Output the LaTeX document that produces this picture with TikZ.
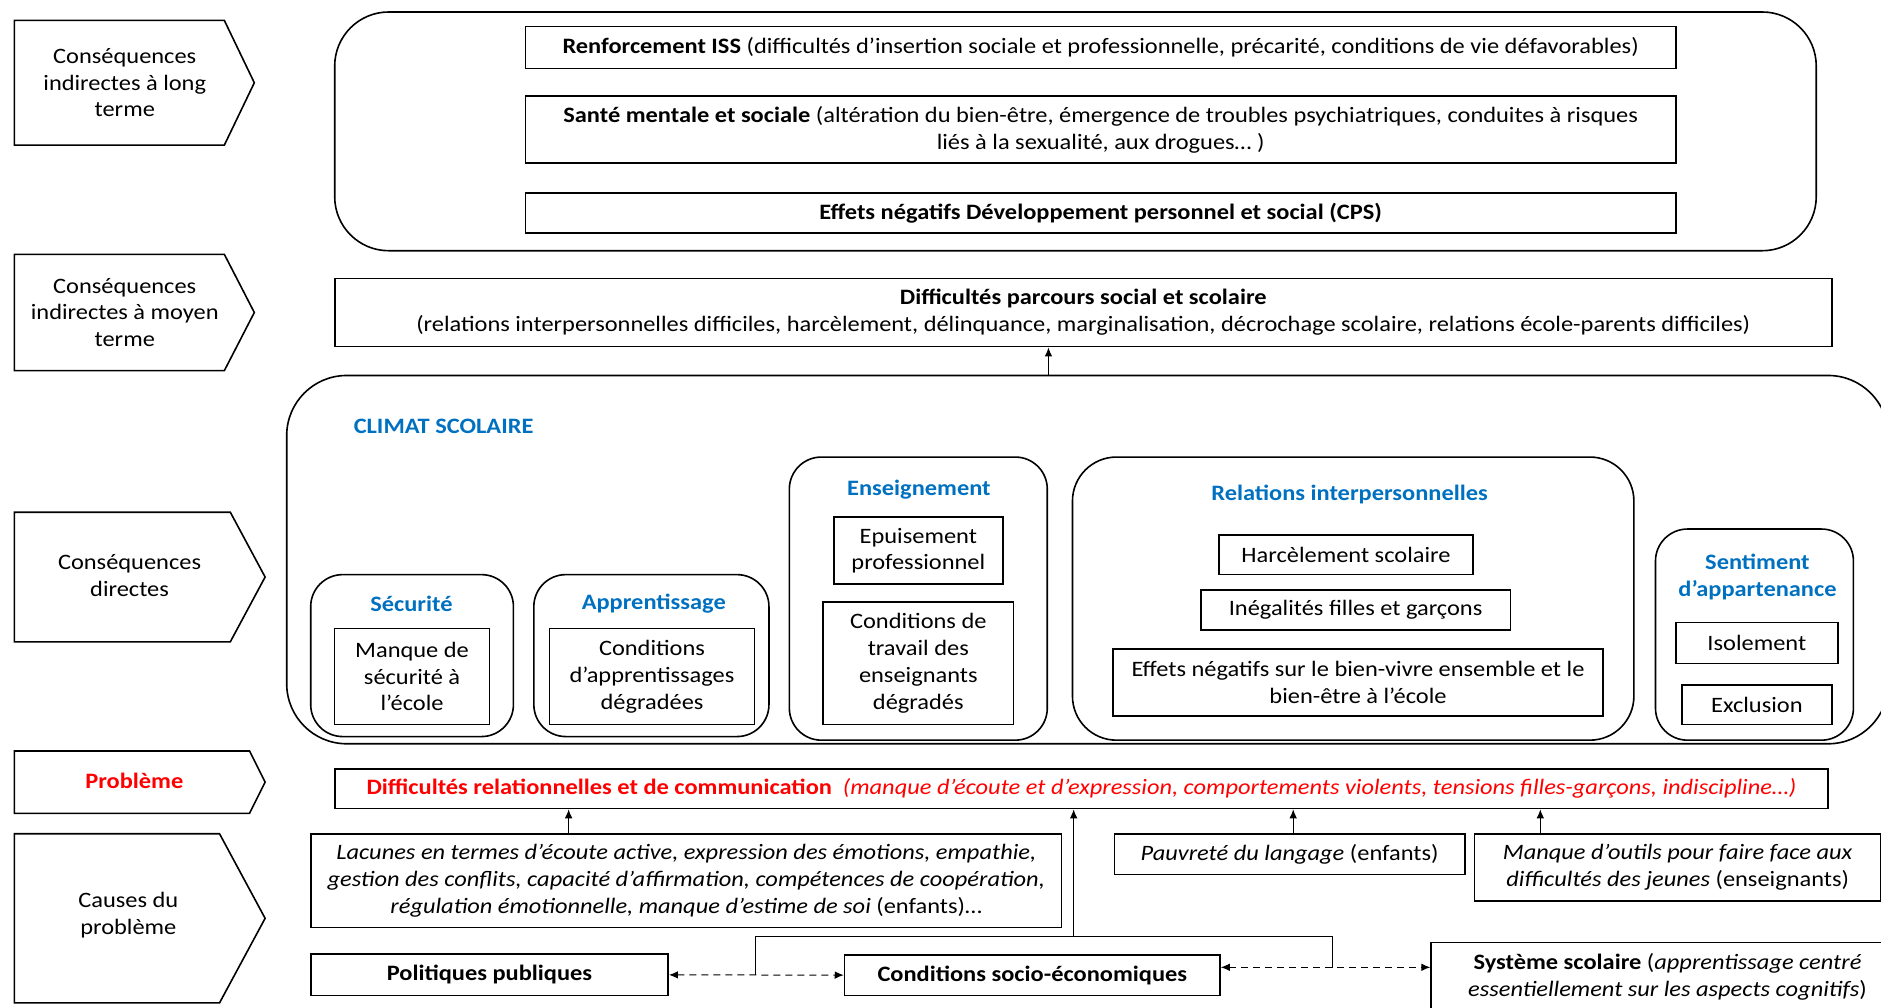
\documentclass[tikz,border=0pt]{standalone}
\usepackage{fontspec}
\setmainfont{Carlito}[FakeStretch=1.11]
\usepackage{tikz}
\usetikzlibrary{arrows.meta,calc,positioning}
\definecolor{climblue}{RGB}{0,112,192}
\definecolor{probred}{RGB}{255,0,0}

\begin{document}
\begin{tikzpicture}[x=0.6pt,y=-0.6pt,font=\fontsize{11}{13.4}\selectfont,>={Latex[length=4.5pt,width=3.8pt]},
  box/.style={draw,line width=0.8pt,align=center,inner sep=1pt},
  grp/.style={draw,line width=0.8pt,rounded corners=16pt},
  ttl/.style={font=\fontsize{11}{13.4}\selectfont\bfseries,text=climblue,align=center},
  lvl/.style={align=center},
  link/.style={line width=0.5pt}]
\useasboundingbox (0,0) rectangle (1568,840);
\clip (0,0) rectangle (1568,840);

% left column: levels
\draw[line width=0.8pt] (12,17) -- (187,17) -- (212,69) -- (187,121) -- (12,121) -- cycle;
\node[lvl] (lvlong) at (104,69) {Conséquences\\indirectes à long\\terme};
\draw[line width=0.8pt] (12,212) -- (187,212) -- (212,260.5) -- (187,309) -- (12,309) -- cycle;
\node[lvl] (lvmoyen) at (104,260.5) {Conséquences\\indirectes à moyen\\terme};
\draw[line width=0.8pt] (12,427) -- (192,427) -- (221,481) -- (192,535) -- (12,535) -- cycle;
\node[lvl] (lvdirect) at (108,480) {Conséquences\\directes};
\draw[line width=0.8pt] (12,626) -- (208,626) -- (221,652) -- (208,678) -- (12,678) -- cycle;
\node[lvl,text=probred,font=\fontsize{11}{13.4}\selectfont\bfseries] (lvprob) at (112,651) {Problème};
\draw[line width=0.8pt] (12,695) -- (183,695) -- (221,765.5) -- (183,836) -- (12,836) -- cycle;
\node[lvl] (lvcause) at (107,763) {Causes du\\problème};

% long term
\node[grp,rounded corners=27pt,minimum width=741pt,minimum height=119.4pt] (lterm) at (896.5,109.5) {};
\node[box,minimum width=575.4pt,minimum height=21pt] (iss) at (917.5,39.5) {\textbf{Renforcement ISS} (difficultés d’insertion sociale et professionnelle, précarité, conditions de vie défavorables)};
\node[box,minimum width=575.4pt,minimum height=33.6pt] (sante) at (917.5,108) {\textbf{Santé mentale et sociale} (altération du bien-être, émergence de troubles psychiatriques, conduites à risques\\liés à la sexualité, aux drogues… )};
\node[box,minimum width=575.4pt,minimum height=19.8pt] (cps) at (917.5,177.5) {\textbf{Effets négatifs Développement personnel et social (CPS)}};

% medium term
\node[box,minimum width=748.8pt,minimum height=34.2pt] (parcours) at (903,260.5) {\textbf{Difficultés parcours social et scolaire}\\(relations interpersonnelles difficiles, harcèlement, délinquance, marginalisation, décrochage scolaire, relations école-parents difficiles)};

% climat scolaire
\node[grp,rounded corners=30pt,minimum width=801pt,minimum height=184.2pt] (climat) at (906.5,466.5) {};
\node[ttl,anchor=west] (climtxt) at (289,355) {CLIMAT SCOLAIRE};
\draw[link,->] (climat.north -| 874,0) -- (parcours.south -| 874,0);

\node[grp,minimum width=101.4pt,minimum height=81pt] (secu) at (343.5,546.5) {};
\node[ttl] (secutxt) at (343,503) {Sécurité};
\node[box,minimum width=77.4pt,minimum height=48pt] (secu1) at (343.5,564) {Manque de\\sécurité à\\l’école};

\node[grp,minimum width=117.6pt,minimum height=81pt] (appr) at (543,546.5) {};
\node[ttl] (apprtxt) at (545,503) {Apprentissage};
\node[box,minimum width=102.6pt,minimum height=48pt] (appr1) at (543.5,564) {Conditions\\d’apprentissages\\dégradées};

\node[grp,minimum width=129pt,minimum height=141.6pt] (ens) at (765.5,499) {};
\node[ttl] (enstxt) at (766,408) {Enseignement};
\node[box,minimum width=84.6pt,minimum height=33.6pt] (ens1) at (765.5,459) {Epuisement\\professionnel};
\node[box,minimum width=95.4pt,minimum height=61.2pt] (ens2) at (765.5,553) {Conditions de\\travail des\\enseignants\\dégradés};

\node[grp,rounded corners=22pt,minimum width=280.8pt,minimum height=141.6pt] (rel) at (1128,499) {};
\node[ttl] (reltxt) at (1125,412) {Relations interpersonnelles};
\node[box,minimum width=127.2pt,minimum height=19.8pt] (rel1) at (1122,462.5) {Harcèlement scolaire};
\node[box,minimum width=154.8pt,minimum height=19.8pt] (rel2) at (1130,508.5) {Inégalités filles et garçons};
\node[box,minimum width=244.8pt,minimum height=33.6pt] (rel3) at (1132,569) {Effets négatifs sur le bien-vivre ensemble et le\\bien-être à l’école};

\node[grp,minimum width=99pt,minimum height=105.6pt] (sent) at (1462.5,529) {};
\node[ttl] (senttxt) at (1465,481) {Sentiment\\d’appartenance};
\node[box,minimum width=81pt,minimum height=20.4pt] (sent1) at (1464.5,536) {Isolement};
\node[box,minimum width=75pt,minimum height=19.8pt] (sent2) at (1464.5,587.5) {Exclusion};

% problem
\node[box,minimum width=747pt,minimum height=19.8pt,text=probred] (prob) at (901.5,657.5) {\textbf{Difficultés relationnelles et de communication}\enspace\textit{(manque d’écoute et d’expression, comportements violents, tensions filles-garçons, indiscipline…)}};

% causes
\node[box,minimum width=375.6pt,minimum height=46.8pt] (lacunes) at (572,734) {\textit{Lacunes en termes d’écoute active, expression des émotions, empathie,}\\\textit{gestion des conflits, capacité d’affirmation, compétences de coopération,}\\\textit{régulation émotionnelle, manque d’estime de soi} (enfants)…};
\node[box,minimum width=175.2pt,minimum height=20.4pt] (pauvrete) at (1075,712) {\textit{Pauvreté du langage} (enfants)};
\node[box,minimum width=203.4pt,minimum height=33.6pt] (outils) at (1398.5,723) {\textit{Manque d’outils pour faire face aux}\\\textit{difficultés des jeunes} (enseignants)};
\node[box,minimum width=178.8pt,minimum height=21pt] (politiques) at (408,812.5) {\textbf{Politiques publiques}};
\node[box,minimum width=187.8pt,minimum height=20.4pt] (socio) at (860.5,813) {\textbf{Conditions socio-économiques}};
\node[box,minimum width=236.4pt,minimum height=34.2pt] (systeme) at (1390,814) {\textbf{Système scolaire} (\textit{apprentissage centré}\\\textit{essentiellement sur les aspects cognitifs})};

\draw[link,->] (lacunes.north -| 474,0) -- (prob.south -| 474,0);
\draw[link,->] (pauvrete.north -| 1078,0) -- (prob.south -| 1078,0);
\draw[link,->] (outils.north -| 1284,0) -- (prob.south -| 1284,0);
\draw[link,<->,dash pattern=on 3.5pt off 2.5pt] (politiques) -- (socio);
\draw[link,<->,dash pattern=on 3.5pt off 2.5pt] ([yshift=4pt]socio.east) -- ([yshift=4pt]socio.east -| systeme.west);
\coordinate (brl) at (630,812.5);
\coordinate (brr) at (1111,807);
\coordinate (brmid) at (895,781);
\draw[link] (brl) -- (brl |- brmid) -- (brr |- brmid) -- (brr);
\draw[link,->] (brmid) -- (prob.south -| brmid);
\end{tikzpicture}
\end{document}
